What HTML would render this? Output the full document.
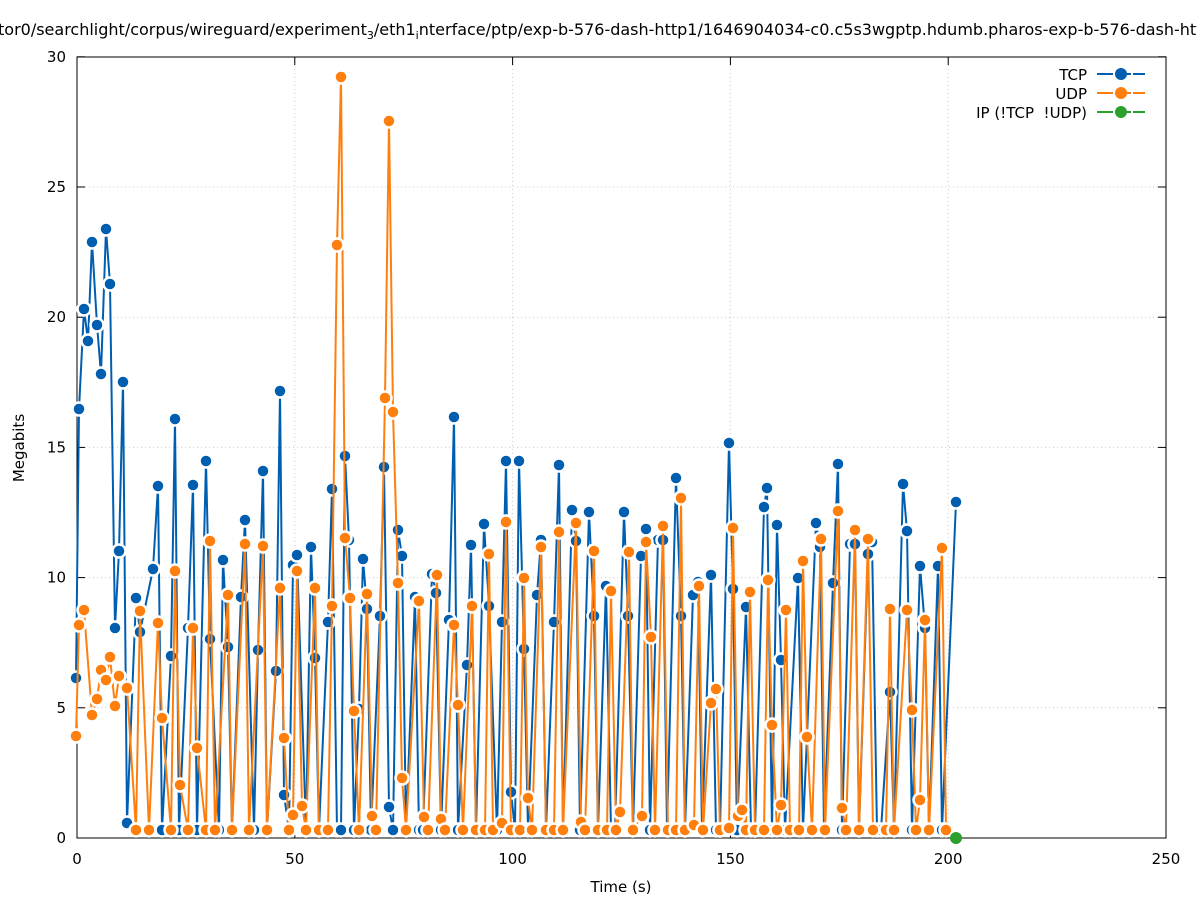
<!DOCTYPE html>
<html><head><meta charset="utf-8"><style>
html,body{margin:0;padding:0;background:#fff;}
svg{display:block;font-family:"DejaVu Sans","Liberation Sans",sans-serif;}
</style></head><body>
<svg id="s" width="1197" height="900" viewBox="0 0 1197 900" xmlns="http://www.w3.org/2000/svg">
<rect width="1197" height="900" fill="#fff"/>
<text x="-2" y="35" font-size="16" fill="#000">tor0/searchlight/corpus/wireguard/experiment<tspan font-size="11" dy="4">3</tspan><tspan dy="-4">/eth1</tspan><tspan font-size="11" dy="4">i</tspan><tspan dy="-4">nterface/ptp/exp-b-576-dash-http1/1646904034-c0.c5s3wgptp.hdumb.pharos-exp-b-576-dash-http1</tspan></text>
<g id="grid" stroke="#ccc" stroke-width="1" stroke-dasharray="1,3"></g>
<rect x="77" y="57" width="1089" height="781" fill="none" stroke="#000" stroke-width="1"/>
<g id="ticks" stroke="#000" stroke-width="1"></g>
<g id="labels" font-size="15" fill="#000"></g>
<text x="621" y="892" font-size="15" text-anchor="middle">Time (s)</text>
<text transform="translate(24,448) rotate(-90)" font-size="15" text-anchor="middle">Megabits</text>
<g id="data"></g>
<g font-size="15" text-anchor="end">
<text x="1087" y="80">TCP</text>
<text x="1087" y="99">UDP</text>
<text x="1087" y="118">IP (!TCP&#160;&#160;!UDP)</text>
</g>
<g stroke-width="2">
<line x1="1097" y1="74" x2="1145" y2="74" stroke="#005eb0" stroke-dasharray="16,2"/><circle cx="1121" cy="74" r="6" fill="#005eb0"/>
<line x1="1097" y1="93" x2="1145" y2="93" stroke="#ff7f0e" stroke-dasharray="16,2"/><circle cx="1121" cy="93" r="6" fill="#ff7f0e"/>
<line x1="1097" y1="112" x2="1145" y2="112" stroke="#2ca02c" stroke-dasharray="16,2"/><circle cx="1121" cy="112" r="6" fill="#2ca02c"/>
</g>
</svg>
<script>
var NS="http://www.w3.org/2000/svg";
function el(p,t,a,txt){var e=document.createElementNS(NS,t);for(var k in a)e.setAttribute(k,a[k]);if(txt!==undefined)e.textContent=txt;document.getElementById(p).appendChild(e);return e;}
for(var i=1;i<=5;i++){var x=77+i*217.8;el("grid","line",{x1:x,y1:57,x2:x,y2:838});}
for(var i=1;i<=5;i++){var y=838-i*130.2;el("grid","line",{x1:77,y1:y,x2:1166,y2:y});}
for(var i=0;i<=5;i++){var x=77+i*217.8;el("ticks","line",{x1:x,y1:838,x2:x,y2:830});el("ticks","line",{x1:x,y1:57,x2:x,y2:65});el("labels","text",{x:x,y:864,"text-anchor":"middle"},String(i*50));}
for(var i=0;i<=6;i++){var y=838-i*130.2;el("ticks","line",{x1:77,y1:y,x2:85,y2:y});el("ticks","line",{x1:1166,y1:y,x2:1158,y2:y});el("labels","text",{x:66,y:y+5,"text-anchor":"end"},String(i*5));}
var tcp=[[76,678],[79,409],[84,309],[88,341],[92,242],[97,325],[101,374],[106,229],[110,284],[115,628],[119,551],[123,382],[127,823],[136,598],[140,632],[153,569],[158,486],[162,830],[171,656],[175,419],[179,830],[188,628],[193,485],[197,830],[206,461],[210,639],[219,830],[223,560],[228,647],[232,830],[241,597],[245,520],[254,830],[258,650],[263,471],[267,830],[276,671],[280,391],[284,795],[289,830],[293,565],[297,555],[306,830],[311,547],[315,658],[319,830],[328,622],[332,489],[337,830],[341,830],[345,456],[349,540],[354,830],[359,709],[363,559],[367,609],[371,830],[380,616],[384,467],[389,807],[393,830],[398,530],[402,556],[406,830],[415,597],[419,830],[423,830],[432,574],[436,593],[441,830],[449,620],[454,417],[458,830],[467,665],[471,545],[476,830],[484,524],[489,606],[497,830],[502,622],[506,461],[511,792],[515,830],[519,461],[524,649],[528,830],[537,595],[541,540],[546,830],[554,622],[559,465],[563,830],[572,510],[576,541],[580,830],[589,512],[594,616],[598,830],[606,586],[611,830],[615,830],[624,512],[628,616],[633,830],[641,556],[646,529],[650,830],[658,540],[663,540],[667,830],[676,478],[681,616],[685,830],[693,595],[698,582],[702,830],[711,575],[716,830],[720,830],[729,443],[733,589],[737,830],[746,607],[751,830],[755,830],[764,507],[767,488],[772,830],[777,525],[781,660],[785,830],[798,578],[803,830],[816,523],[820,547],[824,830],[833,583],[838,464],[842,830],[850,544],[855,544],[859,830],[868,554],[872,542],[877,830],[881,830],[890,692],[894,830],[903,484],[907,531],[912,830],[920,566],[925,628],[929,830],[938,566],[942,830],[956,502]];
var udp=[[76,736],[79,625],[84,610],[92,715],[97,699],[101,670],[106,680],[110,657],[115,706],[119,676],[127,688],[136,830],[140,611],[149,830],[158,623],[162,718],[171,830],[175,571],[180,785],[188,830],[193,628],[197,748],[206,830],[210,541],[215,830],[228,595],[232,830],[245,544],[249,830],[263,546],[267,830],[280,588],[284,738],[289,830],[293,815],[297,571],[302,806],[306,830],[315,588],[319,830],[328,830],[332,606],[337,245],[341,77],[345,538],[350,598],[354,711],[359,830],[367,594],[372,816],[376,830],[385,398],[389,121],[393,412],[398,583],[402,778],[406,830],[419,601],[424,817],[428,830],[437,575],[441,819],[445,830],[454,625],[458,705],[463,830],[472,606],[476,830],[485,830],[489,554],[493,830],[502,823],[506,522],[511,830],[520,830],[524,578],[528,798],[532,830],[541,547],[546,830],[554,830],[559,532],[563,830],[576,523],[581,822],[585,830],[594,551],[598,830],[607,830],[611,591],[616,830],[620,812],[629,552],[633,830],[642,816],[646,542],[651,637],[655,830],[663,526],[668,830],[676,830],[681,498],[685,830],[694,825],[699,586],[703,830],[711,703],[716,689],[720,830],[729,828],[733,528],[738,816],[742,810],[746,830],[750,592],[755,830],[764,830],[768,580],[772,725],[777,830],[781,805],[786,610],[790,830],[799,830],[803,561],[807,737],[812,830],[821,539],[825,830],[838,511],[842,808],[846,830],[855,530],[859,830],[868,539],[873,830],[886,830],[890,609],[894,830],[907,610],[912,710],[916,830],[920,800],[925,620],[929,830],[942,548],[946,830]];
function series(d,c){
 var pts=d.map(function(p){return p.join(",");}).join(" ");
 el("data","polyline",{points:pts,fill:"none",stroke:c,"stroke-width":2,"stroke-linejoin":"round"});
 d.forEach(function(p){el("data","circle",{cx:p[0],cy:p[1],r:6.5,fill:c,stroke:"#fff","stroke-width":2.5});});
}
series(tcp,"#005eb0");
series(udp,"#ff7f0e");
el("data","circle",{cx:956,cy:838,r:6,fill:"#2ca02c"});
</script>
</body></html>
